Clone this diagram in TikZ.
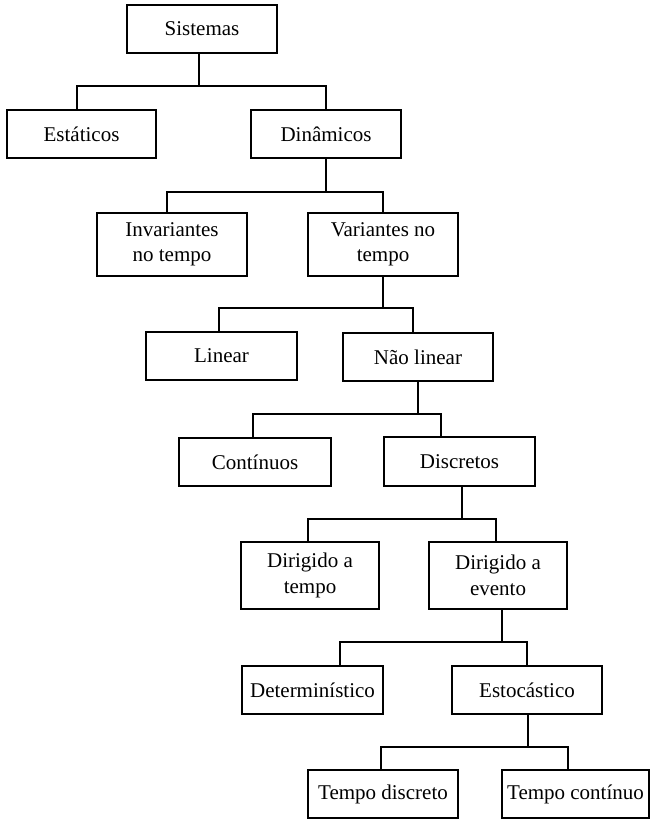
\documentclass[tikz,border=0pt]{standalone}
\usepackage{fontspec}
\setmainfont{Liberation Serif}
\begin{document}
\begin{tikzpicture}[x=1pt,y=-1pt,
  box/.style={draw, line width=2pt, inner sep=0pt, align=center,
    font=\fontsize{21}{25.5}\selectfont},
  link/.style={line width=2pt}]
\useasboundingbox (0,0) rectangle (650,819);
% classification boxes
\node[box, minimum width=150pt, minimum height=48pt] (sis) at (202,29) {Sistemas};
\node[box, minimum width=149pt, minimum height=48pt] (est) at (81.5,134) {Estáticos};
\node[box, minimum width=150pt, minimum height=48pt] (din) at (326,134) {Dinâmicos};
\node[box, minimum width=150pt, minimum height=63pt] (inv) at (172,244.5) {Invariantes\\no tempo};
\node[box, minimum width=150pt, minimum height=63pt] (var) at (383,244.5) {Variantes no\\tempo};
\node[box, minimum width=151pt, minimum height=48pt] (lin) at (221.5,356) {Linear};
\node[box, minimum width=150pt, minimum height=48pt] (nlin) at (418,357) {Não linear};
\node[box, minimum width=152pt, minimum height=48pt] (cont) at (255,462) {Contínuos};
\node[box, minimum width=151pt, minimum height=49pt] (disc) at (459.5,461.5) {Discretos};
\node[box, minimum width=138pt, minimum height=67pt] (dtem) at (310,575.5) {Dirigido a\\tempo};
\node[box, minimum width=138pt, minimum height=67pt] (dev) at (498,575.5) {Dirigido a\\evento};
\node[box, minimum width=141pt, minimum height=48pt] (det) at (312.5,690) {Determinístico};
\node[box, minimum width=150pt, minimum height=48pt] (esto) at (527,690) {Estocástico};
\node[box, minimum width=150pt, minimum height=48pt] (tdisc) at (383,794) {Tempo discreto};
\node[box, minimum width=147pt, minimum height=48pt] (tcont) at (575.5,794) {Tempo contínuo};
% tree connectors
\draw[link] ([xshift=-3pt]sis.south) -- ++(0,32) -| ([xshift=-4.5pt]est.north);
\draw[link] ([xshift=-3pt]sis.south) -- ++(0,32) -| (din.north);
\draw[link] (din.south) -- ++(0,33) -| ([xshift=-5pt]inv.north);
\draw[link] (din.south) -- ++(0,33) -| (var.north);
\draw[link] (var.south) -- ++(0,31) -| ([xshift=-2.5pt]lin.north);
\draw[link] (var.south) -- ++(0,31) -| ([xshift=-5pt]nlin.north);
\draw[link] (nlin.south) -- ++(0,32) -| ([xshift=-2pt]cont.north);
\draw[link] (nlin.south) -- ++(0,32) -| ([xshift=-18.5pt]disc.north);
\draw[link] ([xshift=2.5pt]disc.south) -- ++(0,32) -| ([xshift=-2pt]dtem.north);
\draw[link] ([xshift=2.5pt]disc.south) -- ++(0,32) -| ([xshift=-2pt]dev.north);
\draw[link] ([xshift=4pt]dev.south) -- ++(0,32) -| ([xshift=27.5pt]det.north);
\draw[link] ([xshift=4pt]dev.south) -- ++(0,32) -| (esto.north);
\draw[link] ([xshift=1pt]esto.south) -- ++(0,32) -| ([xshift=-2pt]tdisc.north);
\draw[link] ([xshift=1pt]esto.south) -- ++(0,32) -| ([xshift=-7.5pt]tcont.north);
\end{tikzpicture}
\end{document}
